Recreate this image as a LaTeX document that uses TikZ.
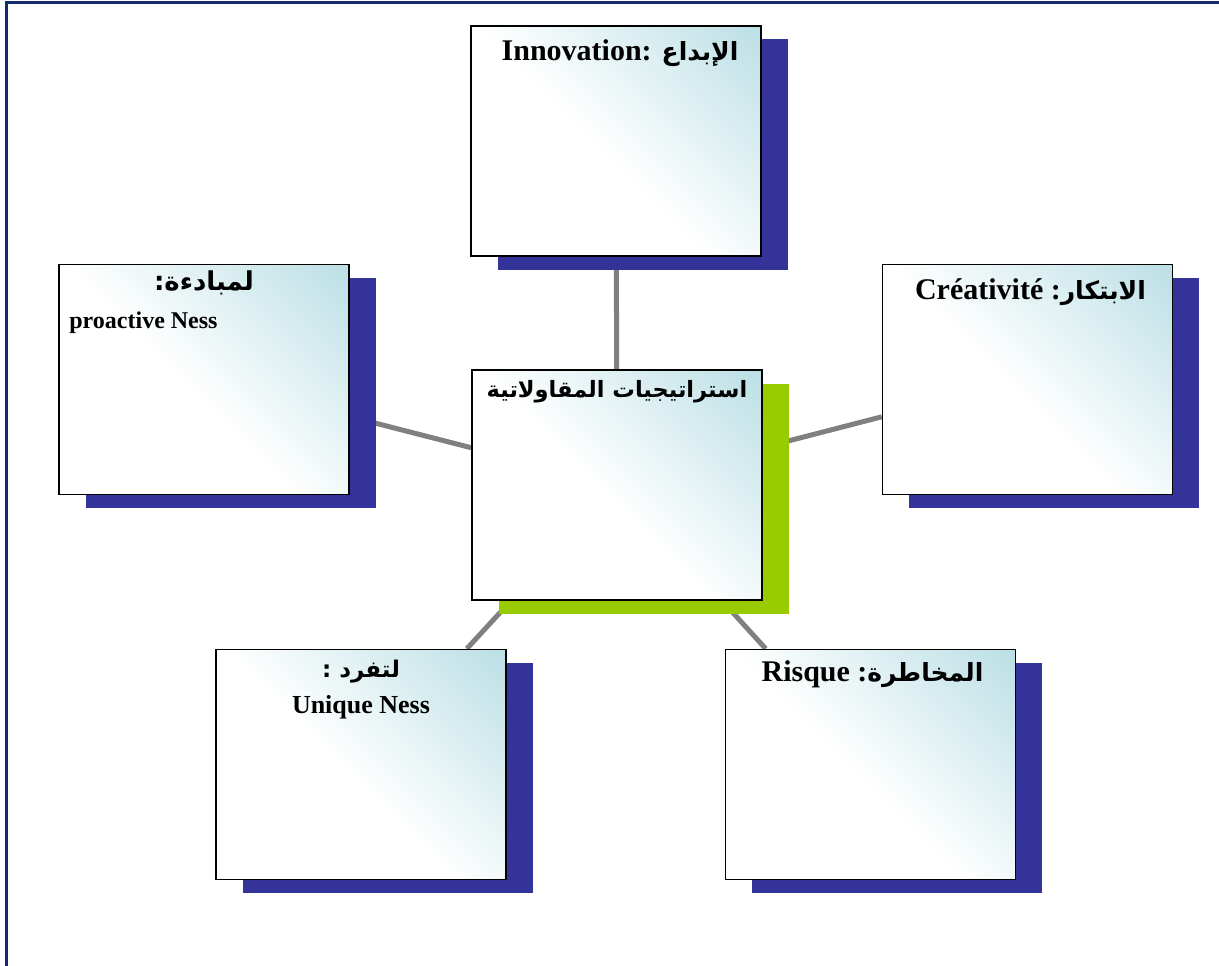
\documentclass[tikz,border=0pt]{standalone}
\usepackage{fontspec}
\setmainfont{Liberation Serif}
\newfontfamily\arabicfont[Script=Arabic]{DejaVu Sans}
\TeXXeTstate=1
\usetikzlibrary{shadows,backgrounds}

\definecolor{framenavy}{RGB}{22,42,112}
\definecolor{shadownavy}{RGB}{51,51,153}
\definecolor{shadowgreen}{RGB}{153,204,0}
\definecolor{fadeteal}{RGB}{182,221,227}
\definecolor{linkgray}{RGB}{128,128,128}

% diagonal fade: white in the lower left, teal towards the upper right corner
\pgfdeclareverticalshading{boxfade}{100bp}{color(0bp)=(white); color(47bp)=(white); color(88bp)=(fadeteal); color(100bp)=(fadeteal)}

\newcommand\arinline[1]{{\arabicfont\bfseries\fontsize{25}{30}\selectfont\beginR #1\endR}}

\tikzset{
  card/.style={draw=black, line width=1.6pt, minimum width=290pt, minimum height=230pt,
    inner sep=0pt, shade, shading=boxfade, shading angle=-45,
    drop shadow={shadow xshift=26.5pt, shadow yshift=-13.5pt, fill=#1, opacity=1}},
  card/.default=shadownavy,
  link/.style={draw=linkgray, line width=5pt},
  headtxt/.style={font=\fontsize{30}{36}\selectfont\bfseries, inner sep=0pt, anchor=base},
  subtxt/.style={font=\fontsize{24}{29}\selectfont\bfseries, inner sep=0pt, anchor=base},
  artxt/.style={font=\fontsize{23}{28}\selectfont\arabicfont\bfseries, inner sep=0pt, anchor=base},
}

\begin{document}
\begin{tikzpicture}[x=1pt, y=-1pt]
\useasboundingbox (0,0) rectangle (1219,966);

% page frame (top and left edges)
\draw[framenavy, line width=3pt] (6.8,966) -- (6.8,2.2) -- (1219,2.2);

% cards
\node[card] (top)   at (616,141)     {};
\node[card] (left)  at (204,379.5)   {};
\node[card=shadowgreen] (hub) at (617,485) {};
\node[card] (right) at (1027.5,379.5) {};
\node[card] (bl)    at (361,764.5)   {};
\node[card] (br)    at (870.5,764.5) {};

% connectors behind the cards
\begin{scope}[on background layer]
  \draw[link] (hub) -- (top);
  \draw[link] (hub) -- (left);
  \draw[link] (hub) -- (right);
  \draw[link] (hub) -- (bl);
  \draw[link] (hub) -- (br);
\end{scope}

% labels
\node[headtxt] (toptxt) at ([xshift=4pt, yshift=-35pt]top.north)
  {Innovation: \arinline{الإبداع}};
\node[artxt, font=\fontsize{22.5}{27}\selectfont\arabicfont\bfseries] (hubtxt) at ([yshift=-28pt]hub.north)
  {\beginR استراتيجيات المقاولاتية\endR};
\node[headtxt] (righttxt) at ([xshift=3pt, yshift=-36pt]right.north)
  {Créativité :\arinline{الابتكار}};
\node[headtxt] (brtxt) at ([xshift=2pt, yshift=-33pt]br.north)
  {Risque :\arinline{المخاطرة}};
\node[artxt, font=\fontsize{26}{30}\selectfont\arabicfont\bfseries] (lefttxt) at ([yshift=-27pt]left.north) {\beginR لمبادءة:\endR};
\node[subtxt, anchor=base west] (leftsub) at ([xshift=11pt, yshift=-65pt]left.north west) {proactive Ness};
\node[artxt] (bltxt) at ([yshift=-29pt]bl.north) {\beginR لتفرد :\endR};
\node[subtxt, font=\fontsize{26}{31}\selectfont\bfseries] (blsub) at ([yshift=-65pt]bl.north) {Unique Ness};
\end{tikzpicture}
\end{document}
